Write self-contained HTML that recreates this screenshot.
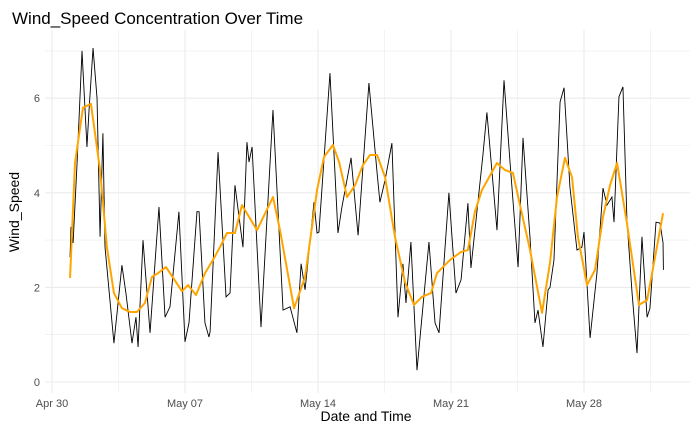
<!DOCTYPE html>
<html><head><meta charset="utf-8"><style>
body{margin:0;background:#fff;}
svg{font-family:"Liberation Sans",sans-serif;}
</style></head><body>
<svg id="chart" width="700" height="432">
<text x="12" y="24" font-size="17" fill="#000">Wind_Speed Concentration Over Time</text>
<text x="366" y="421" font-size="14" text-anchor="middle" fill="#000">Date and Time</text>
<text x="19" y="212" font-size="14" text-anchor="middle" fill="#000" transform="rotate(-90 19 212)">Wind_Speed</text>
<g id="grid"></g><g id="ticks"></g><g id="series"></g>
</svg>
<script>
// days since Apr 30 00:00
const days=[0.95,1.0,1.11,1.32,1.58,1.63,1.84,1.95,2.16,2.37,2.53,2.68,2.79,3.26,3.68,3.89,4.21,4.42,4.53,4.79,5.16,5.63,5.95,6.21,6.68,7.0,7.21,7.63,7.74,8.05,8.26,8.32,8.74,9.16,9.37,9.63,10.05,10.26,10.37,10.53,11.0,11.63,12.16,12.53,12.89,13.11,13.32,13.79,13.95,14.05,14.63,15.05,15.26,15.74,16.11,16.68,17.11,17.26,17.53,17.89,18.21,18.47,18.63,18.89,19.21,19.84,20.16,20.37,20.89,21.26,21.53,21.89,22.05,22.68,22.89,23.42,23.79,24.11,24.53,24.79,25.16,25.42,25.58,25.84,26.11,26.21,26.42,26.74,26.95,27.26,27.63,27.89,28.0,28.32,28.68,29.0,29.21,29.47,29.58,29.84,30.05,30.26,30.53,30.79,31.05,31.32,31.47,31.79,32.0,32.16,32.18];
const values=[2.64,3.28,2.94,4.63,7.0,6.6,4.97,5.75,7.06,6.0,3.07,5.26,2.85,0.82,2.47,1.88,0.82,1.37,0.74,3.0,1.04,3.7,1.37,1.59,3.6,0.85,1.25,3.6,3.6,1.25,0.95,1.06,4.86,1.8,1.88,4.16,2.85,5.07,4.65,4.97,1.16,5.75,1.52,1.59,1.04,2.5,1.95,3.8,3.15,3.17,6.53,3.15,3.7,4.74,3.1,6.32,4.42,3.8,4.27,5.05,1.37,2.5,1.67,2.96,0.25,2.96,1.25,1.04,4.0,1.88,2.16,3.78,2.41,4.8,5.7,3.21,6.38,4.63,2.43,5.16,3.04,1.25,1.52,0.74,1.95,2.0,2.58,5.92,6.22,4.12,2.79,2.85,3.17,0.93,2.3,4.1,3.74,3.91,3.38,6.03,6.24,3.42,1.88,0.61,3.07,1.37,1.56,3.38,3.36,2.94,2.37];
const smoothDays=[0.95,1.21,1.63,2.05,2.53,2.89,3.26,3.68,4.11,4.47,4.89,5.26,5.58,6.0,6.84,7.16,7.58,8.05,8.47,8.84,9.21,9.63,10.0,10.79,11.63,12.0,12.74,13.32,13.95,14.32,14.79,15.11,15.53,15.95,16.37,16.74,17.11,17.53,18.05,18.58,19.05,19.47,19.95,20.26,20.95,21.53,21.89,22.26,22.63,23.42,23.84,24.26,24.63,25.16,25.79,26.21,26.58,27.0,27.37,27.68,28.16,28.58,29.0,29.37,29.74,30.26,30.89,31.32,31.74,32.16];
const smoothValues=[2.2,4.63,5.8,5.88,4.48,2.85,1.88,1.56,1.48,1.48,1.67,2.22,2.3,2.43,1.92,2.05,1.84,2.3,2.58,2.85,3.15,3.15,3.74,3.21,3.91,3.21,1.56,2.22,4.06,4.76,5.01,4.65,3.91,4.16,4.59,4.8,4.8,4.33,3.07,2.11,1.63,1.8,1.88,2.3,2.58,2.75,2.79,3.6,4.06,4.63,4.48,4.42,3.74,2.79,1.46,2.52,3.91,4.74,4.33,3.07,2.05,2.37,3.49,4.16,4.63,3.36,1.63,1.73,2.64,3.57];
const yTicks=[0,2,4,6];
const xTickLabels=["Apr 30","May 07","May 14","May 21","May 28"];
const xTickDays=[0,7,14,21,28];
</script>
<script>
const NS="http://www.w3.org/2000/svg";
const L=45,R=690,T=30,B=393;
function xs(d){return 52+d*19;}
function ys(v){return 382-v*47.3;}
function mk(tag,attrs,parent){const e=document.createElementNS(NS,tag);for(const k in attrs)e.setAttribute(k,attrs[k]);parent.appendChild(e);return e;}
const grid=document.getElementById('grid'),ticks=document.getElementById('ticks'),series=document.getElementById('series');
for(let v=0;v<=7;v++){
  const l=mk('line',{x1:L,x2:R,y1:ys(v),y2:ys(v),stroke:'#ebebeb','stroke-width':v%2?0.6:1.1},grid);
  
  
}
for(let d=-3.5;d<=35;d+=3.5){
  const x=xs(d);if(x<L||x>R)continue;
  const l=mk('line',{x1:x,x2:x,y1:T,y2:B,stroke:'#ebebeb','stroke-width':(d%7===0)?1.1:0.6},grid);
  
  
}
yTicks.forEach(v=>{
  const t=mk('text',{x:40,y:ys(v)+4,'text-anchor':'end','font-size':11,fill:'#4d4d4d'},ticks);t.textContent=v;
  
  
});
xTickLabels.forEach((s,i)=>{
  const t=mk('text',{x:xs(xTickDays[i]),y:407,'text-anchor':'middle','font-size':11,fill:'#4d4d4d'},ticks);t.textContent=s;
  
  
});
const p1=mk('polyline',{points:days.map((d,i)=>xs(d)+','+ys(values[i])).join(' '),fill:'none',stroke:'#000','stroke-width':0.9},series);


const p2=mk('polyline',{points:smoothDays.map((d,i)=>xs(d)+','+ys(smoothValues[i])).join(' '),fill:'none',stroke:'#ffa500','stroke-width':2,'stroke-linejoin':'round'},series);


</script>
</body></html>
